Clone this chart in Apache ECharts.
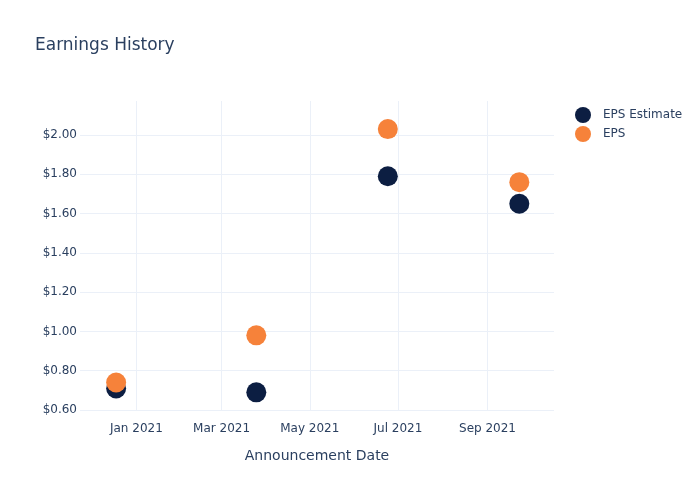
<!DOCTYPE html>
<html>
<head>
<meta charset="utf-8">
<script src="https://cdn.jsdelivr.net/npm/echarts@6/dist/echarts.min.js"></script>
<style>html,body{margin:0;padding:0;background:#fff}#c{width:700px;height:500px}</style>
</head>
<body>
<div id="c"></div>
<script>
const dates = ['2020-12-18', '2021-03-25', '2021-06-24', '2021-09-23'];
const epsEstimate = [0.71, 0.69, 1.79, 1.65];
const eps = [0.74, 0.98, 2.03, 1.76];
const yTicks = [0.6, 0.8, 1.0, 1.2, 1.4, 1.6, 1.8, 2.0];
const xTicks = ['2021-01-01', '2021-03-01', '2021-05-01', '2021-07-01', '2021-09-01'];
const monthNames = ['Jan','Feb','Mar','Apr','May','Jun','Jul','Aug','Sep','Oct','Nov','Dec'];

const toTime = s => new Date(s + 'T00:00:00Z').getTime();
const textColor = '#2a3f5f';
const gridColor = '#EBF0F8';
const font = '"DejaVu Sans", sans-serif';

const chart = echarts.init(document.getElementById('c'), null, {renderer: 'canvas'});
chart.setOption({
  animation: false,
  backgroundColor: '#fff',
  textStyle: {fontFamily: font},
  title: {
    text: 'Earnings History',
    left: 30, top: 32,
    textStyle: {fontSize: 17, fontWeight: 'normal', color: textColor, fontFamily: font}
  },
  legend: {
    orient: 'vertical',
    left: 570, top: 102,
    itemWidth: 16, itemHeight: 16, itemGap: 3,
    icon: 'circle',
    textStyle: {fontSize: 12, color: textColor, fontFamily: font, padding: [0, 0, 0, 7]},
    data: ['EPS Estimate', 'EPS']
  },
  grid: {left: 80, right: 146, top: 101, bottom: 89, containLabel: false},
  xAxis: {
    type: 'value',
    min: toTime('2020-11-23'),
    max: toTime('2021-10-17'),
    name: 'Announcement Date',
    nameLocation: 'middle',
    nameGap: 38,
    nameTextStyle: {fontSize: 14, color: textColor, fontFamily: font},
    axisLine: {show: false},
    axisTick: {show: false, customValues: xTicks.map(toTime)},
    axisLabel: {
      customValues: xTicks.map(toTime),
      color: textColor, fontSize: 12, margin: 12, fontFamily: font,
      formatter: v => { const d = new Date(v); return monthNames[d.getUTCMonth()] + ' ' + d.getUTCFullYear(); }
    },
    splitLine: {show: true, lineStyle: {color: gridColor, width: 1}}
  },
  yAxis: {
    type: 'value',
    min: 0.595,
    max: 2.173,
    axisLine: {show: false},
    axisTick: {show: false, customValues: yTicks},
    axisLabel: {
      customValues: yTicks,
      color: textColor, fontSize: 12, margin: 3, fontFamily: font,
      formatter: v => '$' + v.toFixed(2)
    },
    splitLine: {show: true, lineStyle: {color: gridColor, width: 1}}
  },
  series: [
    {
      name: 'EPS Estimate', type: 'scatter', symbolSize: 20,
      itemStyle: {color: '#0c1e42', opacity: 1},
      data: dates.map((d, i) => [toTime(d), epsEstimate[i]])
    },
    {
      name: 'EPS', type: 'scatter', symbolSize: 20,
      itemStyle: {color: '#f6823a', opacity: 1},
      data: dates.map((d, i) => [toTime(d), eps[i]])
    }
  ]
});
</script>
</body>
</html>
